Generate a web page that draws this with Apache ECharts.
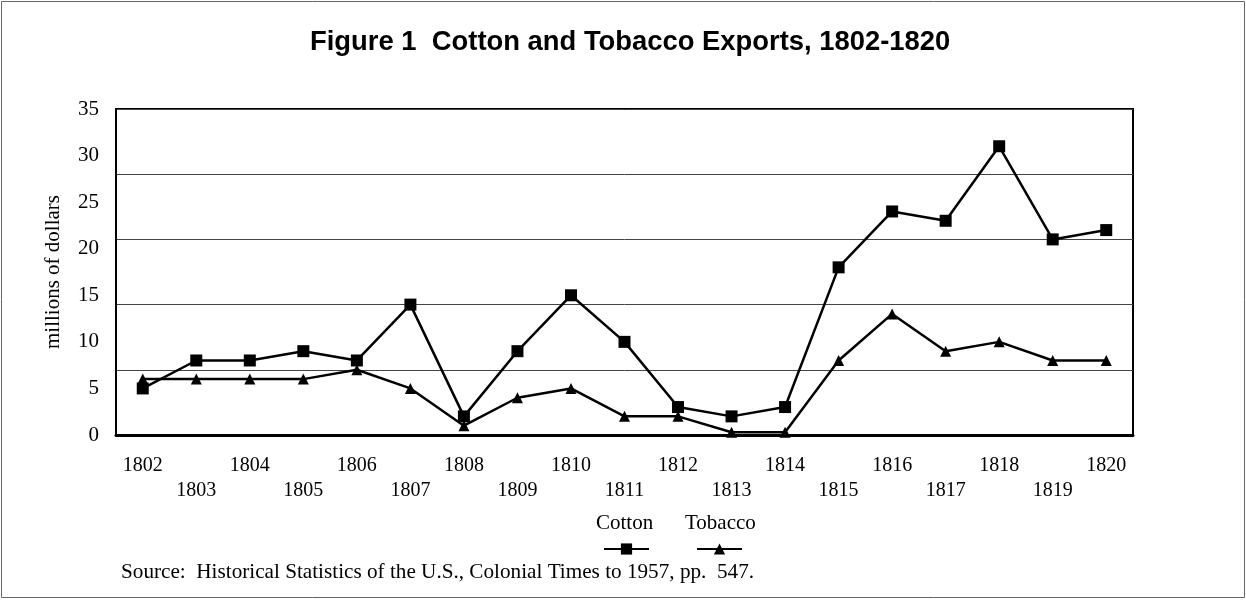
<!DOCTYPE html>
<html><head><meta charset="utf-8">
<script src="https://cdn.jsdelivr.net/npm/echarts@6/dist/echarts.min.js"></script>
<style>html,body{margin:0;padding:0;background:#fff}#c{width:1246px;height:600px}</style>
</head><body><div id="c"></div>
<script>
const years = ['1802','1803','1804','1805','1806','1807','1808','1809','1810','1811','1812','1813','1814','1815','1816','1817','1818','1819','1820'];
const cotton = [5, 8, 8, 9, 8, 14, 2, 9, 15, 10, 3, 2, 3, 18, 24, 23, 31, 21, 22];
const tobacco = [6, 6, 6, 6, 7, 5, 1, 4, 5, 2, 2, 0.3, 0.3, 8, 13, 9, 10, 8, 8];
const yTicks = [0, 5, 10, 15, 20, 25, 30, 35];
const seriesNames = ['Cotton', 'Tobacco'];
const titleText = 'Figure 1  Cotton and Tobacco Exports, 1802-1820';
const sourceText = 'Source:  Historical Statistics of the U.S., Colonial Times to 1957, pp.  547.';
const yName = 'millions of dollars';

const serif = 'Liberation Serif, Times New Roman, serif';
const chart = echarts.init(document.getElementById('c'));
chart.setOption({
  animation: false,
  backgroundColor: '#fff',
  title: [
    { text: titleText, left: 305, top: 24,
      textStyle: { fontFamily: 'Liberation Sans, Arial, sans-serif', fontWeight: 'bold', fontSize: 27.4, color: '#000' } },
    { text: sourceText, left: 116, top: 557,
      textStyle: { fontFamily: serif, fontWeight: 'normal', fontSize: 21.2, color: '#000' } }
  ],
  graphic: [
    { type: 'rect', shape: { x: 1.5, y: 1.5, width: 1243, height: 596 }, style: { fill: 'none', stroke: '#666', lineWidth: 1 }, silent: true },
    { type: 'text', left: 596, top: 513, style: { text: seriesNames[0], font: '21px ' + serif, fill: '#000' } },
    { type: 'text', left: 685, top: 513, style: { text: seriesNames[1], font: '21px ' + serif, fill: '#000' } }
  ],
  legend: {
    data: seriesNames, left: 598, top: 537, itemWidth: 45, itemHeight: 14, itemGap: 46,
    formatter: () => '', textStyle: { fontSize: 1 }
  },
  grid: { left: 116, top: 109, width: 1017, height: 326, show: true, borderColor: '#000', borderWidth: 2, containLabel: false },
  xAxis: {
    type: 'category', data: years, boundaryGap: true,
    axisLine: { lineStyle: { color: '#000', width: 3 } },
    axisTick: { show: false },
    axisLabel: {
      interval: 0, margin: 18, lineHeight: 25,
      fontFamily: serif, fontSize: 20, color: '#000',
      formatter: (v, i) => (i % 2 === 1 ? '\n' + v : v)
    },
    splitLine: { show: false }
  },
  yAxis: [
    { type: 'value', min: 0, max: 35, interval: 7, position: 'left',
      axisLine: { show: true, lineStyle: { color: '#000', width: 2 } },
      axisTick: { show: false }, axisLabel: { show: false },
      splitLine: { show: true, lineStyle: { color: '#444', width: 1 } } },
    { type: 'value', min: yTicks[0], max: yTicks[yTicks.length - 1], interval: yTicks[1] - yTicks[0], position: 'left',
      name: yName, nameLocation: 'middle', nameGap: 52, nameRotate: 90,
      nameTextStyle: { fontFamily: serif, fontSize: 21, color: '#000' },
      axisLine: { show: false }, axisTick: { show: false },
      axisLabel: { margin: 17, fontFamily: serif, fontSize: 21, color: '#000' },
      splitLine: { show: false } }
  ],
  series: [
    { name: seriesNames[0], type: 'line', yAxisIndex: 1, data: cotton,
      symbol: 'rect', symbolSize: 12, itemStyle: { color: '#000' },
      lineStyle: { color: '#000', width: 2.5 } },
    { name: seriesNames[1], type: 'line', yAxisIndex: 1, data: tobacco,
      symbol: 'triangle', symbolSize: 11, itemStyle: { color: '#000' },
      lineStyle: { color: '#000', width: 2.5 } }
  ]
});
</script></body></html>
